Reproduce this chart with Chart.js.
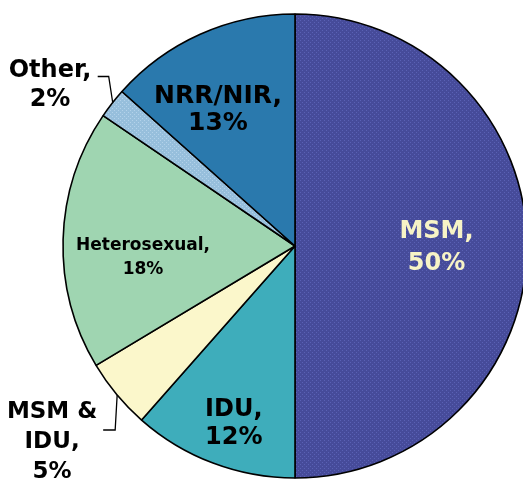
<!DOCTYPE html>
<html>
<head>
<meta charset="utf-8">
<script src="https://cdn.jsdelivr.net/npm/chart.js@4"></script>
<style>
body { margin: 0; overflow: hidden; background: #fff; }
#wrap { width: 590px; height: 489px; }
</style>
</head>
<body>
<div id="wrap"><canvas id="chart" width="590" height="489"></canvas></div>
<script>
// data, clockwise from 12 o'clock
var categories = ['MSM', 'IDU', 'MSM & IDU', 'Heterosexual', 'Other', 'NRR/NIR'];
var shares = [50, 11.5, 4.9, 18.1, 2.1, 13.4];
var labelLines = [['MSM,', '50%'], ['IDU,', '12%'], ['MSM &', 'IDU,', '5%'],
                  ['Heterosexual,', '18%'], ['Other,', '2%'], ['NRR/NIR,', '13%']];

// label placement: radius as fraction of pie radius, turn in degrees from slice middle
var labelRadius = [0.61, 0.81, 1.345, 0.657, 1.263, 0.674];
var labelTurn = [0.8, -1.7, 0.9, -6.1, -4.7, -5.4];
var labelSize = [24, 24, 23, 17, 24, 25];
var labelStep = [32, 28, 30, 24, 29, 27];
var labelColor = ['#f7f3c6', '#000', '#000', '#000', '#000', '#000'];
// leader lines for labels outside the pie
var leaders = {
    2: { at: 0.49, elbow: [-2, 35], tail: -12 },
    4: { at: 0.53, elbow: [-4, -26], tail: -11 }
};

function dotted(base, dot) {
    var c = document.createElement('canvas');
    c.width = 4; c.height = 4;
    var g = c.getContext('2d');
    g.fillStyle = base;
    g.fillRect(0, 0, 4, 4);
    g.fillStyle = dot;
    g.fillRect(0, 0, 1, 1);
    g.fillRect(2, 2, 1, 1);
    return g.createPattern(c, 'repeat');
}

var ctx = document.getElementById('chart').getContext('2d');
var colors = [
    dotted('#464b9a', '#5a61b4'),
    '#3eadbb',
    '#fbf7cb',
    '#9fd5b1',
    dotted('#97bfdc', '#b3d2ea'),
    '#2a79ad'
];

var sliceLabels = {
    id: 'sliceLabels',
    afterDatasetsDraw: function (chart) {
        var c = chart.ctx;
        var arcs = chart.getDatasetMeta(0).data;
        c.save();
        arcs.forEach(function (arc, i) {
            var p = arc.getProps(['x', 'y', 'startAngle', 'endAngle', 'outerRadius'], true);
            var lead = leaders[i];
            if (lead) {
                var a = p.startAngle + (p.endAngle - p.startAngle) * lead.at;
                var ex = p.x + Math.cos(a) * p.outerRadius;
                var ey = p.y + Math.sin(a) * p.outerRadius;
                c.strokeStyle = '#000';
                c.lineWidth = 1.3;
                c.beginPath();
                c.moveTo(ex, ey);
                c.lineTo(ex + lead.elbow[0], ey + lead.elbow[1]);
                c.lineTo(ex + lead.elbow[0] + lead.tail, ey + lead.elbow[1]);
                c.stroke();
            }
            var mid = (p.startAngle + p.endAngle) / 2 + labelTurn[i] * Math.PI / 180;
            var r = p.outerRadius * labelRadius[i];
            var cx = p.x + Math.cos(mid) * r;
            var cy = p.y + Math.sin(mid) * r;
            var lines = labelLines[i];
            c.font = 'bold ' + labelSize[i] + 'px "DejaVu Sans", Verdana, sans-serif';
            c.fillStyle = labelColor[i];
            c.textAlign = 'center';
            c.textBaseline = 'middle';
            var top = cy - (lines.length - 1) * labelStep[i] / 2;
            lines.forEach(function (t, k) {
                c.fillText(t, cx, top + k * labelStep[i]);
            });
        });
        c.restore();
    }
};

new Chart(ctx, {
    type: 'pie',
    data: {
        labels: categories,
        datasets: [{
            data: shares,
            backgroundColor: colors,
            borderColor: '#000',
            borderWidth: 1.6
        }]
    },
    options: {
        responsive: false,
        animation: false,
        radius: 232,
        layout: { padding: { top: 14, bottom: 11, left: 0, right: 0 } },
        plugins: {
            legend: { display: false },
            tooltip: { enabled: false },
            title: { display: false }
        }
    },
    plugins: [sliceLabels]
});
</script>
</body>
</html>
